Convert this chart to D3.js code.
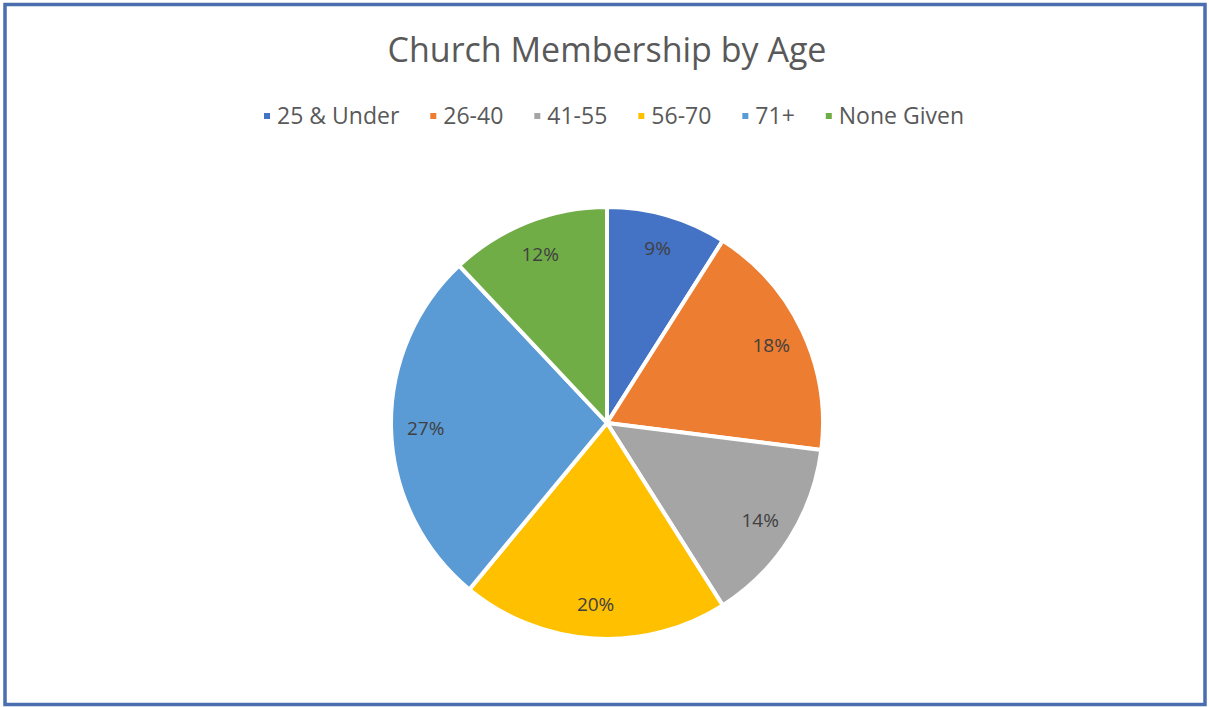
<!DOCTYPE html>
<html><head><meta charset="utf-8">
<script src="https://cdn.jsdelivr.net/npm/d3@7"></script>
<style>body{margin:0;background:#fff;}svg{display:block;}</style>
</head><body>
<svg id="c" width="1209" height="707"></svg>
<script>
const categories = ["25 & Under", "26-40", "41-55", "56-70", "71+", "None Given"];
const values = [9, 18, 14, 20, 27, 12];
const colors = ["#4472C4", "#ED7D31", "#A5A5A5", "#FFC000", "#5B9BD5", "#70AD47"];
const title = "Church Membership by Age";

const W = 1209, H = 707;
const svg = d3.select("#c");
const font = "'Open Sans', sans-serif";

svg.append("rect").attr("x", 5).attr("y", 4.5).attr("width", 1200).attr("height", 700)
  .attr("fill", "#fff").attr("stroke", "#4a6eae").attr("stroke-width", 3.5);

svg.append("text").attr("x", 607).attr("y", 62).attr("text-anchor", "middle")
  .attr("font-family", font).attr("font-size", 34).attr("fill", "#595959").text(title);

// legend
const lg = svg.append("g");
const fs = 23;
let items = categories.map((c, i) => {
  const t = lg.append("text").attr("font-family", font).attr("font-size", fs).attr("fill", "#595959")
    .attr("y", 124).text(c);
  return {t, w: t.node().getComputedTextLength(), i};
});
const mk = 6, mgap = 7, igap = 31;
const total = d3.sum(items, d => mk + mgap + d.w) + igap * (items.length - 1);
let x = 614 - total / 2;
items.forEach(d => {
  lg.append("rect").attr("x", x).attr("y", 113).attr("width", mk).attr("height", mk).attr("fill", colors[d.i]);
  d.t.attr("x", x + mk + mgap);
  x += mk + mgap + d.w + igap;
});

// pie
const cx = 607, cy = 423, R = 216;
const pie = d3.pie().sort(null).value(d => d)(values);
const arc = d3.arc().innerRadius(0).outerRadius(R);
const labelArc = d3.arc().innerRadius(R * 0.84).outerRadius(R * 0.84);
const g = svg.append("g").attr("transform", `translate(${cx},${cy})`);
g.selectAll("path").data(pie).join("path")
  .attr("d", arc).attr("fill", (d, i) => colors[i])
  .attr("stroke", "#fff").attr("stroke-width", 4).attr("stroke-linejoin", "round");
g.selectAll("text").data(pie).join("text")
  .attr("transform", d => `translate(${labelArc.centroid(d)})`)
  .attr("text-anchor", "middle").attr("dy", "0.35em")
  .attr("font-family", font).attr("font-size", 19).attr("fill", "#404040")
  .text(d => d.data + "%");
</script>
</body></html>
